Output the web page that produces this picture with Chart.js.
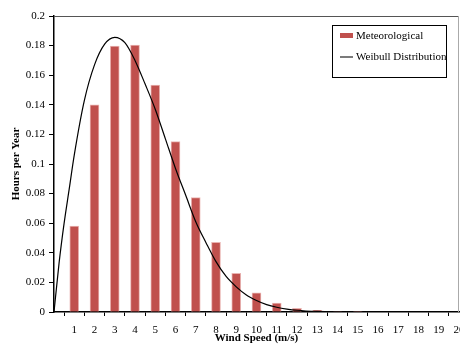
<!DOCTYPE html>
<html>
<head>
<meta charset="utf-8">
<script src="https://cdn.jsdelivr.net/npm/chart.js@4/dist/chart.umd.min.js"></script>
<style>
  html, body { margin: 0; padding: 0; background: #fff; overflow: hidden; }
  #chart { display: block; }
</style>
</head>
<body>
<canvas id="chart" width="460" height="345"></canvas>
<script>
// wind speed classes (m/s) and measured share of hours
const speeds = [1, 2, 3, 4, 5, 6, 7, 8, 9, 10, 11, 12, 13, 14, 15, 16, 17, 18, 19];
const meteo = [0.058, 0.140, 0.1797, 0.1803, 0.1534, 0.1151, 0.0773, 0.0471, 0.0261, 0.0130,
               0.0060, 0.0025, 0.0011, 0.0004, 0.0001, 0, 0, 0, 0];

// fitted curve
const weibullX = [0, 0.25, 0.5, 0.75, 1, 1.5, 2, 2.5, 3, 3.5, 4, 4.5, 5, 5.5, 6, 6.5, 7, 7.5,
                  8, 8.5, 9, 9.5, 10, 10.5, 11, 11.5, 12, 13, 14, 15, 16, 17, 18, 19, 20];
const weibullY = [0, 0.033, 0.060, 0.083, 0.106, 0.143, 0.167, 0.181, 0.1856, 0.182, 0.170, 0.154,
                  0.137, 0.117, 0.097, 0.079, 0.061, 0.047, 0.034, 0.024, 0.017, 0.0115, 0.0078,
                  0.005, 0.0032, 0.002, 0.0012, 0.0004, 0.0001, 0, 0, 0, 0, 0, 0];

const serif = "'Liberation Serif', 'Times New Roman', serif";

const barData = speeds.map((s, i) => ({ x: s, y: meteo[i] }));
const lineData = weibullX.map((s, i) => ({ x: s, y: weibullY[i] }));

// frame on top/right plus boxed legend like the original
const frameAndLegend = {
    id: 'frameAndLegend',
    afterDraw(chart) {
        const { ctx, chartArea: a } = chart;
        ctx.save();
        ctx.lineWidth = 1;
        ctx.strokeStyle = '#555';
        ctx.beginPath();
        ctx.moveTo(a.left, a.top + 0.5);
        ctx.lineTo(a.right, a.top + 0.5);
        ctx.stroke();
        ctx.strokeStyle = '#aaa';
        ctx.beginPath();
        ctx.moveTo(a.right - 0.5, a.top);
        ctx.lineTo(a.right - 0.5, a.bottom);
        ctx.stroke();

        const bx = 332, by = 25, bw = 114, bh = 52;
        ctx.fillStyle = '#fff';
        ctx.fillRect(bx, by, bw, bh);
        ctx.strokeStyle = '#000';
        ctx.strokeRect(bx + 0.5, by + 0.5, bw, bh);

        const ds = chart.data.datasets;
        ctx.font = '11px ' + serif;
        ctx.textBaseline = 'middle';
        // bar swatch
        ctx.fillStyle = ds[0].backgroundColor;
        ctx.fillRect(340, 33, 13, 5);
        ctx.fillStyle = '#000';
        ctx.fillText(ds[0].label, 356, 36);
        // line swatch
        ctx.strokeStyle = '#222';
        ctx.lineWidth = 1.2;
        ctx.beginPath();
        ctx.moveTo(340, 57);
        ctx.lineTo(353, 57);
        ctx.stroke();
        ctx.fillText(ds[1].label, 356, 57);
        ctx.restore();
    }
};

new Chart(document.getElementById('chart'), {
    type: 'bar',
    data: {
        datasets: [{
            type: 'bar',
            label: 'Meteorological',
            data: barData,
            backgroundColor: '#C0504D',
            borderColor: '#E9B3B1',
            borderWidth: 1,
            barThickness: 9,
            order: 1
        }, {
            type: 'line',
            label: 'Weibull Distribution',
            data: lineData,
            borderColor: '#000',
            borderWidth: 1.2,
            pointRadius: 0,
            cubicInterpolationMode: 'monotone',
            fill: false,
            order: 0
        }]
    },
    options: {
        responsive: false,
        devicePixelRatio: 1,
        animation: false,
        layout: { padding: { left: 0, top: 16, right: 1, bottom: 0 } },
        plugins: {
            legend: { display: false },
            tooltip: { enabled: false }
        },
        scales: {
            x: {
                type: 'linear',
                min: 0,
                max: 20,
                offset: false,
                afterFit: (scale) => { scale.height = 33; scale.paddingLeft = 0; scale.paddingRight = 0; },
                ticks: {
                    stepSize: 1,
                    autoSkip: false,
                    maxRotation: 0,
                    padding: 8,
                    color: '#000',
                    font: { family: serif, size: 11 },
                    callback: (v) => v === 0 ? '' : v
                },
                grid: {
                    drawOnChartArea: false,
                    tickLength: 4,
                    color: (c) => (c.tick && c.tick.value === 0) ? 'rgba(0,0,0,0)' : '#000'
                },
                border: { color: '#000', width: 1.5 },
                title: {
                    display: true,
                    text: 'Wind Speed (m/s)',
                    color: '#000',
                    font: { family: serif, size: 11, weight: 'bold' },
                    padding: { top: 0, bottom: 0 }
                }
            },
            y: {
                min: 0,
                max: 0.2,
                afterFit: (scale) => { scale.width = 54; },
                ticks: {
                    stepSize: 0.02,
                    padding: 4,
                    color: '#000',
                    font: { family: serif, size: 11 },
                    callback: (v) => String(+v.toFixed(2))
                },
                grid: {
                    drawOnChartArea: false,
                    tickLength: 5,
                    color: '#000'
                },
                border: { color: '#000', width: 1.5 },
                title: {
                    display: true,
                    text: 'Hours per Year',
                    color: '#000',
                    font: { family: serif, size: 11, weight: 'bold' },
                    padding: { top: 10, bottom: 0 }
                }
            }
        }
    },
    plugins: [frameAndLegend]
});
</script>
</body>
</html>
